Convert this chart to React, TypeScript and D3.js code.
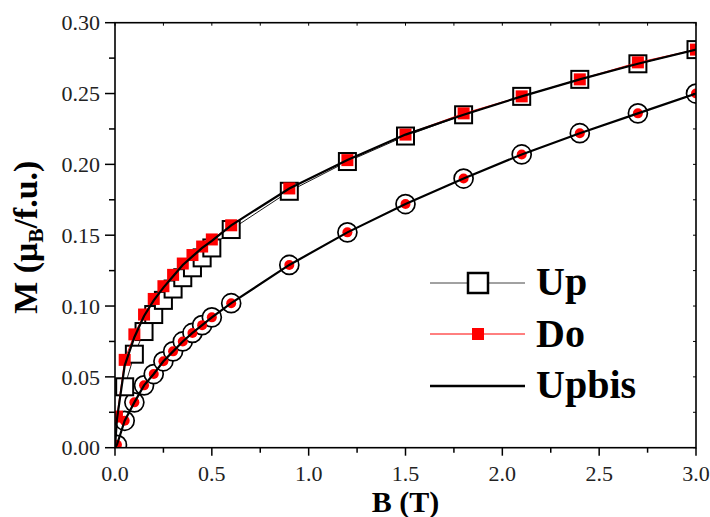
import React from "react";
import * as d3 from "d3";

// ---- data ----
const upB = [0.05, 0.1, 0.15, 0.2, 0.25, 0.3, 0.35, 0.4, 0.45, 0.5, 0.6, 0.9, 1.2, 1.5, 1.8, 2.1, 2.4, 2.7, 3.0];
const upM = [0.043, 0.066, 0.082, 0.094, 0.104, 0.112, 0.12, 0.127, 0.134, 0.141, 0.154, 0.181, 0.202, 0.22, 0.235, 0.248, 0.26, 0.271, 0.281];

const doB = [0.01, 0.05, 0.1, 0.15, 0.2, 0.25, 0.3, 0.35, 0.4, 0.45, 0.5, 0.6, 0.9, 1.2, 1.5, 1.8, 2.1, 2.4, 2.7, 3.0];
const doM = [0.022, 0.062, 0.08, 0.094, 0.105, 0.114, 0.122, 0.13, 0.136, 0.142, 0.147, 0.157, 0.183, 0.203, 0.221, 0.236, 0.248, 0.26, 0.272, 0.281];

const upbisB = [0, 0.01, 0.05, 0.1, 0.15, 0.2, 0.25, 0.3, 0.35, 0.4, 0.45, 0.5, 0.6, 0.9, 1.2, 1.5, 1.8, 2.1, 2.4, 2.7, 3.0];
const upbisM = [0, 0.02, 0.058, 0.078, 0.093, 0.104, 0.113, 0.121, 0.129, 0.135, 0.141, 0.146, 0.157, 0.183, 0.203, 0.221, 0.235, 0.248, 0.26, 0.271, 0.281];

const lowB = [0.01, 0.05, 0.1, 0.15, 0.2, 0.25, 0.3, 0.35, 0.4, 0.45, 0.5, 0.6, 0.9, 1.2, 1.5, 1.8, 2.1, 2.4, 2.7, 3.0];
const lowOpenM = [0.002, 0.019, 0.032, 0.044, 0.052, 0.061, 0.068, 0.075, 0.081, 0.0865, 0.092, 0.102, 0.129, 0.152, 0.172, 0.19, 0.207, 0.222, 0.236, 0.25];
const lowRedM = [0.002, 0.019, 0.032, 0.044, 0.052, 0.061, 0.068, 0.075, 0.081, 0.0865, 0.092, 0.102, 0.129, 0.152, 0.172, 0.19, 0.207, 0.222, 0.236, 0.25];
const lowLineB = [0, 0.01, 0.05, 0.1, 0.15, 0.2, 0.25, 0.3, 0.35, 0.4, 0.45, 0.5, 0.6, 0.9, 1.2, 1.5, 1.8, 2.1, 2.4, 2.7, 3.0];
const lowLineM = [0, 0.002, 0.019, 0.032, 0.044, 0.052, 0.061, 0.068, 0.075, 0.081, 0.0865, 0.092, 0.102, 0.129, 0.152, 0.172, 0.19, 0.207, 0.222, 0.236, 0.25];

const xTickLabels = ["0.0", "0.5", "1.0", "1.5", "2.0", "2.5", "3.0"];
const yTickLabels = ["0.00", "0.05", "0.10", "0.15", "0.20", "0.25", "0.30"];
const legendLabels = ["Up", "Do", "Upbis"];

const W = 710, H = 517;
const L = 115, R = 696, T = 22.7, B = 447.7;

const x = d3.scaleLinear().domain([0, 3]).range([L, R]);
const y = d3.scaleLinear().domain([0, 0.3]).range([B, T]);

const zip = (bs: number[], ms: number[]) => bs.map((b, i) => [b, ms[i]] as [number, number]);
const line = d3.line<[number, number]>().x((d) => x(d[0])).y((d) => y(d[1]));

const serif = "'Liberation Serif', 'Times New Roman', 'DejaVu Serif', serif";

export default function App() {
  const up = zip(upB, upM);
  const dn = zip(doB, doM);
  const ub = zip(upbisB, upbisM);
  const lo = zip(lowB, lowOpenM);
  const lr = zip(lowB, lowRedM);
  const ll = zip(lowLineB, lowLineM);

  const xMinor = d3.range(0, 3.0001, 0.25);
  const yMinor = d3.range(0, 0.30001, 0.025);

  return (
    <svg width={W} height={H} style={{ position: "absolute", left: 0, top: 0, background: "#fff" }}>
      <defs>
        <clipPath id="plot">
          <rect x={L} y={T} width={R - L} height={B - T} />
        </clipPath>
      </defs>
      <rect x={0} y={0} width={W} height={H} fill="#fff" />
      <g clipPath="url(#plot)">
        {/* lower family */}
        {lo.map((d, i) => (
          <circle key={"lo" + i} cx={x(d[0])} cy={y(d[1])} r={9.5} fill="#fff" stroke="#000" strokeWidth={1.7} />
        ))}
        {lr.map((d, i) => (
          <circle key={"lr" + i} cx={x(d[0])} cy={y(d[1])} r={5} fill="#ff0000" />
        ))}
        <path d={line(ll) || ""} fill="none" stroke="#000" strokeWidth={2.2} />

        {/* upper family */}
        <path d={line(up) || ""} fill="none" stroke="#000" strokeWidth={0.9} />
        {up.map((d, i) => (
          <rect key={"up" + i} x={x(d[0]) - 8.5} y={y(d[1]) - 8.5} width={17} height={17} fill="#fff" stroke="#000" strokeWidth={2} />
        ))}
        <path d={line(dn) || ""} fill="none" stroke="#ff0000" strokeWidth={0.9} />
        {dn.map((d, i) => (
          <rect key={"dn" + i} x={x(d[0]) - 6} y={y(d[1]) - 6} width={12} height={12} fill="#ff0000" />
        ))}
        <path d={line(ub) || ""} fill="none" stroke="#000" strokeWidth={2.2} />
      </g>

      {/* frame */}
      <rect x={L} y={T} width={R - L} height={B - T} fill="none" stroke="#000" strokeWidth={1.6} />

      {/* x ticks */}
      {xMinor.map((v, i) => {
        const major = i % 2 === 0;
        return (
          <g key={"xt" + i}>
            <line x1={x(v)} x2={x(v)} y1={B} y2={B + (major ? 8 : 5)} stroke="#000" strokeWidth={1.5} />
            <line x1={x(v)} x2={x(v)} y1={T} y2={T + 3} stroke="#000" strokeWidth={1} />
          </g>
        );
      })}
      {xTickLabels.map((t, i) => (
        <text key={"xl" + i} x={x(i * 0.5)} y={481} textAnchor="middle" fontFamily={serif} fontSize={22} fill="#222">
          {t}
        </text>
      ))}

      {/* y ticks */}
      {yMinor.map((v, i) => {
        const major = i % 2 === 0;
        return (
          <g key={"yt" + i}>
            <line x1={L - (major ? 10 : 6)} x2={L} y1={y(v)} y2={y(v)} stroke="#000" strokeWidth={1.5} />
            <line x1={R - 3} x2={R} y1={y(v)} y2={y(v)} stroke="#000" strokeWidth={1} />
          </g>
        );
      })}
      {yTickLabels.map((t, i) => (
        <text key={"yl" + i} x={100} y={y(i * 0.05)} dy="0.35em" textAnchor="end" fontFamily={serif} fontSize={22} fill="#222">
          {t}
        </text>
      ))}

      {/* axis titles */}
      <text x={(L + R) / 2} y={512} textAnchor="middle" fontFamily={serif} fontWeight="bold" fontSize={30} fill="#000">
        B (T)
      </text>
      <text
        transform={`translate(37,${(T + B) / 2 + 2}) rotate(-90)`}
        textAnchor="middle"
        fontFamily={serif}
        fontWeight="bold"
        fontSize={34}
        fill="#000"
      >
        M (μ<tspan fontSize={21} dy={6}>B</tspan>
        <tspan dy={-6}>/f.u.)</tspan>
      </text>

      {/* legend */}
      <g>
        <line x1={430} x2={525} y1={283} y2={283} stroke="#444" strokeWidth={1} />
        <rect x={468} y={273} width={20} height={20} fill="#fff" stroke="#000" strokeWidth={2.5} />
        <line x1={430} x2={525} y1={334} y2={334} stroke="#ff0000" strokeWidth={1} />
        <rect x={472} y={328} width={12} height={12} fill="#ff0000" />
        <line x1={430} x2={525} y1={386} y2={386} stroke="#000" strokeWidth={2.5} />
        {legendLabels.map((t, i) => (
          <text key={"lg" + i} x={536} y={295 + i * 51.5} fontFamily={serif} fontWeight="bold" fontSize={40} fill="#000">
            {t}
          </text>
        ))}
      </g>
    </svg>
  );
}
